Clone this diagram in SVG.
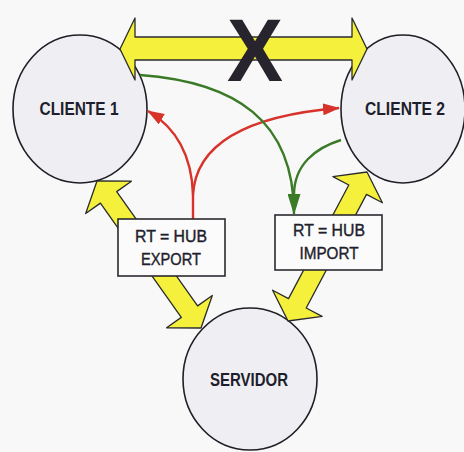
<svg xmlns="http://www.w3.org/2000/svg" width="464" height="452" viewBox="0 0 464 452">
  <defs>
    <style>
      .node { fill: #efeff3; stroke: #1f1f26; stroke-width: 1.6; }
      .node-label { font-family: "Liberation Sans", Arial, sans-serif; font-weight: bold; font-size: 18px; fill: #1e1e2c; text-anchor: middle; }
      .box { fill: #fbfbfb; stroke: #2a2a30; stroke-width: 1.6; }
      .box-label { font-family: "Liberation Sans", Arial, sans-serif; font-size: 17px; fill: #1e1e2c; stroke: #1e1e2c; stroke-width: 0.4; text-anchor: middle; }
      .link { fill: #f4f03c; stroke: #2b2b2b; stroke-width: 1.3; stroke-linejoin: round; }
      .red { fill: none; stroke: #d8332b; stroke-width: 2.4; }
      .green { fill: none; stroke: #3b7a26; stroke-width: 2.4; }
      .cross { font-family: "Liberation Sans", Arial, sans-serif; font-weight: bold; font-size: 89px; fill: #28242e; text-anchor: middle; }
    </style>
    <marker id="head-red" markerUnits="userSpaceOnUse" markerWidth="18" markerHeight="12" refX="16" refY="6" orient="auto">
      <path d="M0,0 L17,6 L0,12 z" fill="#d8332b"/>
    </marker>
    <marker id="head-green" markerUnits="userSpaceOnUse" markerWidth="22" markerHeight="13" refX="20" refY="6.5" orient="auto">
      <path d="M0,0 L21,6.5 L0,13 z" fill="#3b7a26"/>
    </marker>
  </defs>

  <rect x="0" y="0" width="464" height="452" fill="#f8f8f9"/>

  <!-- hosts -->
  <g id="cliente1">
    <ellipse class="node" cx="80" cy="109" rx="67" ry="74"/>
    <text class="node-label" x="79" y="115" textLength="79" lengthAdjust="spacingAndGlyphs">CLIENTE 1</text>
  </g>
  <g id="cliente2">
    <ellipse class="node" cx="403" cy="109" rx="62" ry="74"/>
    <text class="node-label" x="405" y="115" textLength="80" lengthAdjust="spacingAndGlyphs">CLIENTE 2</text>
  </g>
  <g id="servidor">
    <ellipse class="node" cx="250" cy="379" rx="67" ry="71"/>
    <text class="node-label" x="249" y="386" textLength="78" lengthAdjust="spacingAndGlyphs">SERVIDOR</text>
  </g>

  <!-- links between hosts -->
  <g id="connectors">
    <!-- direct client-to-client link, crossed out -->
    <polygon class="link" points="120,49 135,18 135,37 352,37 352,18 367,49 352,80 352,60 135,60 135,80"/>
    <!-- cliente 1 <-> servidor -->
    <polygon class="link" points="97,181 131.4,181.2 116.7,191.6 197.6,305.9 212.3,295.5 201,328 166.6,327.8 181.3,317.4 100.4,203.1 85.7,213.5"/>
    <!-- cliente 2 <-> servidor -->
    <polygon class="link" points="367,172 382.4,202.8 366.5,194.4 306.2,308 322.1,316.4 288,321 272.6,290.2 288.5,298.6 348.8,185 332.9,176.6"/>

    <!-- route-target export -->
    <path class="red" d="M193,219 L193,195 C192,160 180,130 148,111" marker-end="url(#head-red)"/>
    <path class="red" d="M193,195 C196,140 255,115 339,108" marker-end="url(#head-red)"/>

    <!-- route-target import -->
    <path class="green" d="M140,75 C235,82 294,120 294,214" marker-end="url(#head-green)"/>
    <path class="green" d="M341,140 C315,148 294,165 294,195"/>
  </g>

  <text class="cross" x="255" y="80.5" textLength="56" lengthAdjust="spacingAndGlyphs">X</text>

  <g id="rt-export">
    <rect class="box" x="118" y="219" width="107" height="57"/>
    <text class="box-label" x="171" y="242" textLength="72" lengthAdjust="spacingAndGlyphs">RT = HUB</text>
    <text class="box-label" x="171" y="265" textLength="60" lengthAdjust="spacingAndGlyphs">EXPORT</text>
  </g>
  <g id="rt-import">
    <rect class="box" x="275" y="215" width="107" height="55"/>
    <text class="box-label" x="329" y="236" textLength="72" lengthAdjust="spacingAndGlyphs">RT = HUB</text>
    <text class="box-label" x="329" y="259" textLength="59" lengthAdjust="spacingAndGlyphs">IMPORT</text>
  </g>
</svg>
